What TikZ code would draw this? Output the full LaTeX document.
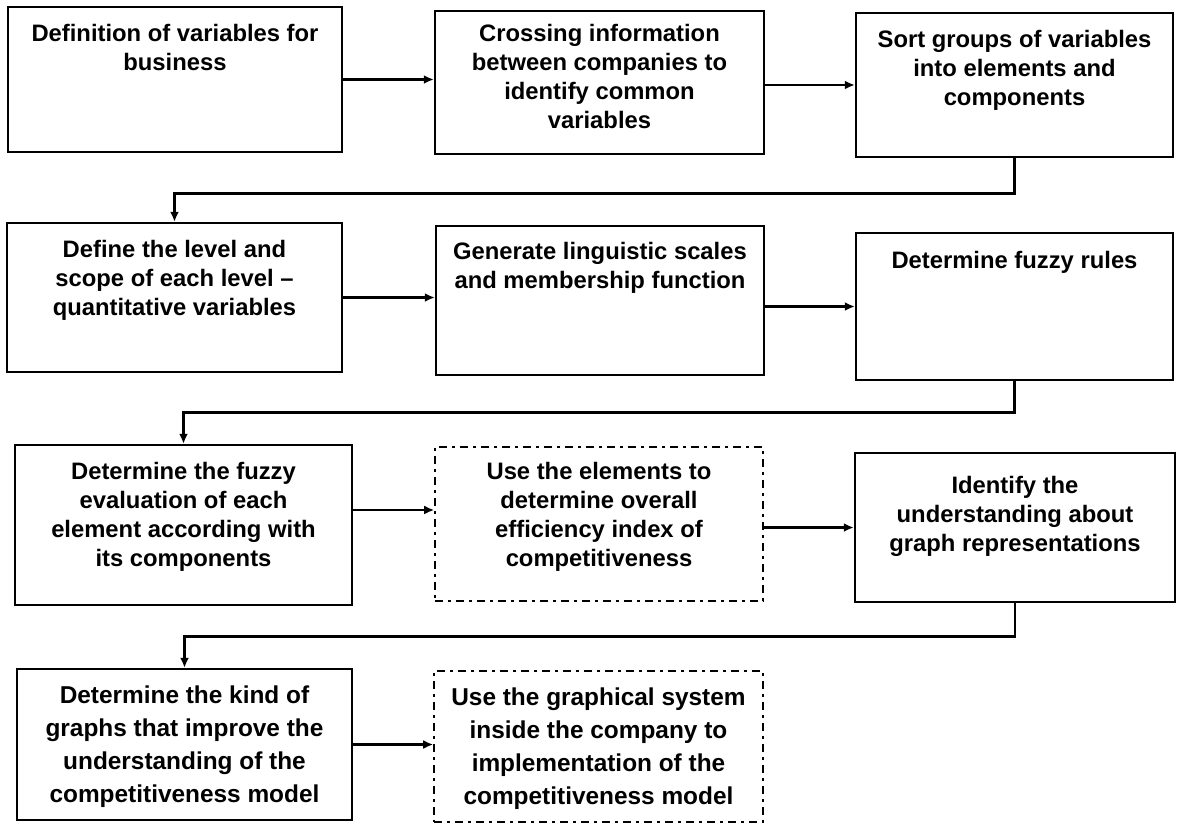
\documentclass[tikz,border=0pt]{standalone}
\usepackage{fontspec}
\setmainfont{Liberation Sans}
\usetikzlibrary{arrows.meta,calc,positioning}

\tikzset{
  stepbox/.style={draw, line width=1.2pt, inner sep=0pt},
  planbox/.style={draw, line width=0.8pt, inner sep=0pt, dash pattern=on 4pt off 2.5pt on 1.5pt off 2.5pt},
  boxtext/.style={align=center, inner sep=0pt, font=\bfseries\fontsize{11.9}{14.5}\selectfont},
  lasttext/.style={boxtext, font=\bfseries\fontsize{12.2}{16.5}\selectfont},
  flow/.style={-{Latex[length=5pt,width=4.5pt]}, line width=1.4pt},
}

\begin{document}
\begin{tikzpicture}[x=0.5pt,y=-0.5pt]
        \useasboundingbox (0,0) rectangle (1179,825);
        % Draw the boxes
        \node[stepbox, minimum width=167pt, minimum height=72.5pt] (b1) at (175,79.5) {};
        \node[stepbox, minimum width=164.5pt, minimum height=71.5pt] (b2) at (599.5,82.5) {};
        \node[stepbox, minimum width=158.5pt, minimum height=72pt] (b3) at (1014.5,85) {};
        \node[stepbox, minimum width=167.5pt, minimum height=74.5pt] (b4) at (174.5,297.5) {};
        \node[stepbox, minimum width=164pt, minimum height=74.5pt] (b5) at (600,300.5) {};
        \node[stepbox, minimum width=158.5pt, minimum height=73.5pt] (b6) at (1014.5,306.5) {};
        \node[stepbox, minimum width=168.5pt, minimum height=80pt] (b7) at (183.5,525) {};
        \node[planbox, minimum width=164pt, minimum height=77pt] (b8) at (599,524) {};
        \node[stepbox, minimum width=160pt, minimum height=74.5pt] (b9) at (1015,527.5) {};
        \node[stepbox, minimum width=167.5pt, minimum height=75.5pt] (b10) at (184.5,744.5) {};
        \node[planbox, minimum width=164.5pt, minimum height=75.5pt] (b11) at (598.5,746.5) {};
        % Box texts
        \node[boxtext, below=9pt of b1.north] (t1) {Definition of variables for\\business};
        \node[boxtext, below=7pt of b2.north] (t2) {Crossing information\\between companies to\\identify common\\variables};
        \node[boxtext, below=9pt of b3.north] (t3) {Sort groups of variables\\into elements and\\components};
        \node[boxtext, below=9pt of b4.north] (t4) {Define the level and\\scope of each level --\\quantitative variables};
        \node[boxtext, below=8.5pt of b5.north] (t5) {Generate linguistic scales\\and membership function};
        \node[boxtext, below=9.5pt of b6.north] (t6) {Determine fuzzy rules};
        \node[boxtext, below=9pt of b7.north] (t7) {Determine the fuzzy\\evaluation of each\\element according with\\its components};
        \node[boxtext, below=8pt of b8.north] (t8) {Use the elements to\\determine overall\\efficiency index of\\competitiveness};
        \node[boxtext, below=12pt of b9.north] (t9) {Identify the\\understanding about\\graph representations};
        \node[lasttext, below=9pt of b10.north] (t10) {Determine the kind of\\graphs that improve the\\understanding of the\\competitiveness model};
        \node[lasttext, below=8.5pt of b11.north] (t11) {Use the graphical system\\inside the company to\\implementation of the\\competitiveness model};
        % Draw the flow between boxes
        \draw[flow] (b1.east) -- (b1.east -| b2.west);
        \draw[flow] (b3.west -| b2.east) -- (b3.west);
        \draw[flow] (b4.east) -- (b4.east -| b5.west);
        \draw[flow] (b6.west -| b5.east) -- (b6.west);
        \draw[flow] ([yshift=7.5pt]b7.east) coordinate (a7) -- (a7 -| b8.west);
        \draw[flow] (b9.west -| b8.east) -- (b9.west);
        \draw[flow] (b10.east) -- (b10.east -| b11.west);
        % Return lines to the next row
        \draw[flow] (b3.south) -- ++(0,35) -| (b4.north);
        \draw[flow] (b6.south) -- ++(0,31) -| (b7.north);
        \draw[flow] (b9.south) -- ++(0,33) -| (b10.north);
\end{tikzpicture}
\end{document}
